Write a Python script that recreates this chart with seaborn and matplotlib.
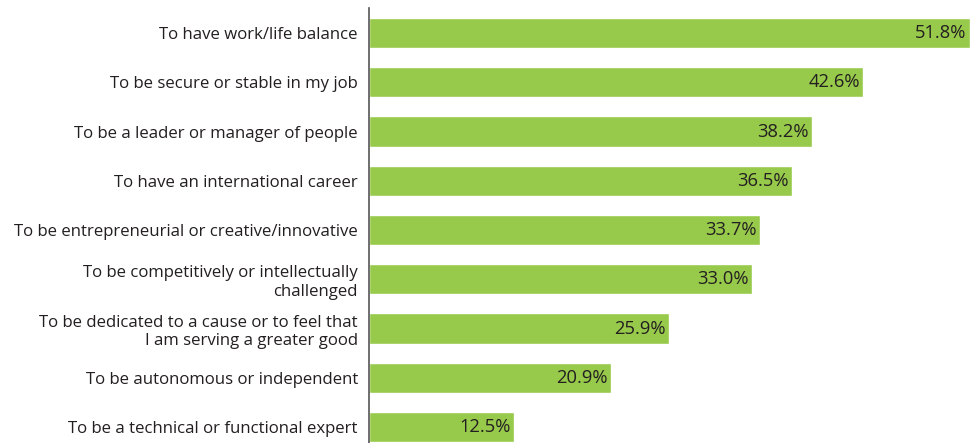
import matplotlib
matplotlib.use("Agg")
import matplotlib.pyplot as plt
import seaborn as sns
import pandas as pd

categories = [
    "To have work/life balance",
    "To be secure or stable in my job",
    "To be a leader or manager of people",
    "To have an international career",
    "To be entrepreneurial or creative/innovative",
    "To be competitively or intellectually\nchallenged",
    "To be dedicated to a cause or to feel that\nI am serving a greater good",
    "To be autonomous or independent",
    "To be a technical or functional expert",
]
values = [51.8, 42.6, 38.2, 36.5, 33.7, 33.0, 25.9, 20.9, 12.5]

sns.set_style("white")
plt.rcParams['font.family'] = ['Open Sans', 'DejaVu Sans']

df = pd.DataFrame({"cat": categories, "val": values})

fig = plt.figure(figsize=(9.71, 4.43), dpi=100)
ax = fig.add_axes([369/971, 0.0, 1 - 369/971, 435/443])

sns.barplot(data=df, x="val", y="cat", orient="h", color="#97C94B",
            saturation=1, width=0.61, ax=ax)

ax.set_xlim(0, 51.9)
ax.set_ylim(8.325, -0.508)
for s in ["top", "right", "bottom"]:
    ax.spines[s].set_visible(False)
ax.spines["left"].set_color("#555555")
ax.spines["left"].set_linewidth(1.2)
ax.set_xticks([])
ax.set_xlabel("")
ax.set_ylabel("")
ax.tick_params(axis="y", length=0, pad=8, labelsize=12.1, labelcolor="#231F20")
for lab in ax.get_yticklabels():
    lab.set_ha("right")
    lab.set_linespacing(1.2)

for i, v in enumerate(values):
    ax.text(v - 0.3, i, f"{v:.1f}%", ha="right", va="center",
            fontsize=13.2, color="#231F20")

fig.savefig("out.png", dpi=100)
